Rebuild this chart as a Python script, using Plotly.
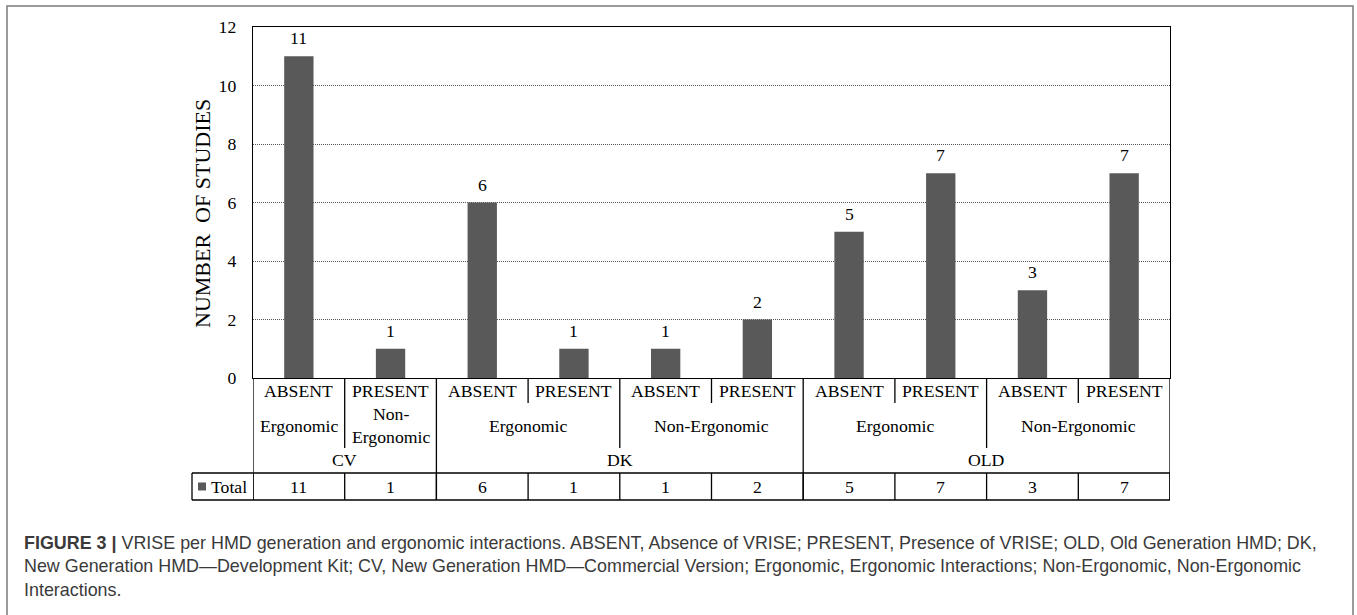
import plotly.graph_objects as go

# ---- data ----
vrise = ["ABSENT", "PRESENT", "ABSENT", "PRESENT", "ABSENT", "PRESENT",
         "ABSENT", "PRESENT", "ABSENT", "PRESENT"]
totals = [11, 1, 6, 1, 1, 2, 5, 7, 3, 7]
# interaction groups: (label, first column, last column)
interactions = [("Ergonomic", 0, 0), ("Non-<br>Ergonomic", 1, 1),
                ("Ergonomic", 2, 3), ("Non-Ergonomic", 4, 5),
                ("Ergonomic", 6, 7), ("Non-Ergonomic", 8, 9)]
generations = [("CV", 0, 1), ("DK", 2, 5), ("OLD", 6, 9)]
series_name = "Total"
y_ticks = [0, 2, 4, 6, 8, 10, 12]
y_title = "NUMBER  OF STUDIES"

W, H = 1357, 615
def PX(x): return x / W
def PY(y): return 1 - y / H

SERIF = "Liberation Serif, Times New Roman, serif"
SANS = "Liberation Sans, Arial, sans-serif"
BAR = "#595959"
TXT = dict(family=SERIF, size=17.7, color="black")

x_idx = list(range(len(totals)))

fig = go.Figure()
fig.add_trace(go.Bar(x=x_idx, y=totals, marker=dict(color=BAR, line=dict(width=0)),
                     width=0.32, name=series_name, showlegend=False, hoverinfo="skip"))

shapes = []
ann = []
L = dict(color="black", width=1.3)

def label(x, y, text, xref="x", yref="paper", xanchor="center", yanchor="middle", **kw):
    d = dict(x=x, y=y, xref=xref, yref=yref, text=text, showarrow=False,
             xanchor=xanchor, yanchor=yanchor, font=TXT)
    d.update(kw)
    ann.append(d)

# bar value labels
for i, v in enumerate(totals):
    label(i, v, str(v), yref="y", yshift=18)

y_zero = 378
y_r1 = 403
y_r2 = 448
y_tab_top = 473
y_tab_bot = 500

for i, t in enumerate(vrise):
    label(i, PY(390.5), t)
for lab, a, b in interactions:
    label((a + b) / 2, PY(426), lab)
for lab, a, b in generations:
    label((a + b) / 2, PY(460), lab)
for i, v in enumerate(totals):
    label(i, PY(486.5), str(v))

# vertical separators
gen_edges = set()
for lab, a, b in generations:
    gen_edges.add(a - 0.5); gen_edges.add(b + 0.5)
int_edges = set()
for lab, a, b in interactions:
    int_edges.add(a - 0.5); int_edges.add(b + 0.5)
for k in range(len(totals) + 1):
    xe = k - 0.5
    if xe in gen_edges:
        y_end = y_tab_bot
    elif xe in int_edges:
        y_end = y_r2
    else:
        y_end = y_r1
    shapes.append(dict(type="line", xref="x", yref="paper", x0=xe, x1=xe,
                       y0=PY(y_zero), y1=PY(y_end), line=L))
    shapes.append(dict(type="line", xref="x", yref="paper", x0=xe, x1=xe,
                       y0=PY(y_tab_top), y1=PY(y_tab_bot), line=L))

# total table horizontal lines + legend cell
tab_left = 192
for yy in (y_tab_top, y_tab_bot):
    shapes.append(dict(type="line", xref="paper", yref="paper", x0=PX(tab_left), x1=PX(1170),
                       y0=PY(yy), y1=PY(yy), line=L))
shapes.append(dict(type="line", xref="paper", yref="paper", x0=PX(tab_left), x1=PX(tab_left),
                   y0=PY(y_tab_top), y1=PY(y_tab_bot), line=L))
shapes.append(dict(type="rect", xref="paper", yref="paper", x0=PX(198), x1=PX(206),
                   y0=PY(490.5), y1=PY(482.5), fillcolor=BAR, line=dict(width=0)))
label(PX(209), PY(486.5), series_name, xref="paper", xanchor="left")

# y-axis title
label(PX(203), PY(214), y_title, xref="paper", textangle=-90,
      font=dict(family=SERIF, size=22, color="black"))

# outer figure frame
shapes.append(dict(type="rect", xref="paper", yref="paper", x0=PX(7), x1=PX(1353),
                   y0=PY(640), y1=PY(6), line=dict(color="#7a7a7a", width=1.5)))

# caption
caption = ("<b>FIGURE 3 |</b> VRISE per HMD generation and ergonomic interactions. ABSENT, Absence of VRISE; "
           "PRESENT, Presence of VRISE; OLD, Old Generation HMD; DK,<br>"
           "New Generation HMD\u2014Development Kit; CV, New Generation HMD\u2014Commercial Version; "
           "Ergonomic, Ergonomic Interactions; Non-Ergonomic, Non-Ergonomic<br>Interactions.")
ann.append(dict(x=PX(22), y=PY(531), xref="paper", yref="paper", text=caption,
                xanchor="left", yanchor="top", align="left", showarrow=False,
                font=dict(family=SANS, size=17.9, color="#3a3a3a")))

fig.update_layout(
    width=W, height=H, margin=dict(l=0, r=0, t=0, b=0, pad=0, autoexpand=False),
    paper_bgcolor="white", plot_bgcolor="white",
    shapes=shapes, annotations=ann, showlegend=False,
    xaxis=dict(domain=[PX(253), PX(1170)], range=[-0.5, len(totals) - 0.5],
               showticklabels=False, showgrid=False, zeroline=False, automargin=False,
               showline=True, mirror=True, linecolor="black", linewidth=1.3, ticks=""),
    yaxis=dict(domain=[PY(378), PY(27)], range=[0, 12], tickvals=y_ticks,
               showgrid=True, gridcolor="#555555", griddash="1px,1px", gridwidth=1,
               zeroline=False, showline=True, mirror=True, linecolor="black", linewidth=1.3,
               ticks="", ticklabelstandoff=12, automargin=False,
               tickfont=TXT),
)

fig.write_html("out.html", post_script="document.body.style.margin='0';",
               config={"displayModeBar": False})
